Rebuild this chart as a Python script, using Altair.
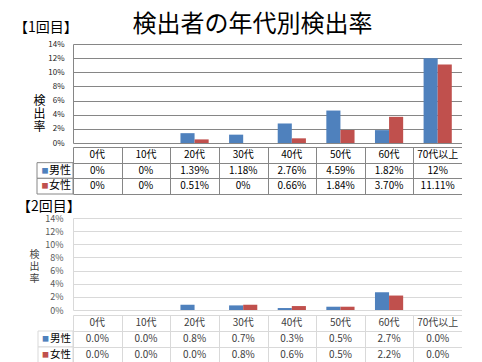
import altair as alt
import pandas as pd

ages = ["0代", "10代", "20代", "30代", "40代", "50代", "60代", "70代以上"]
sexes = ["男性", "女性"]
colors = ["#4F81BD", "#C0504D"]
y_ticks = [0, 2, 4, 6, 8, 10, 12, 14]
rows = ["header", "男性", "女性"]

r1_male = [0, 0, 1.39, 1.18, 2.76, 4.59, 1.82, 12.0]
r1_female = [0, 0, 0.51, 0, 0.66, 1.84, 3.70, 11.11]
r1_male_text = ["0%", "0%", "1.39%", "1.18%", "2.76%", "4.59%", "1.82%", "12%"]
r1_female_text = ["0%", "0%", "0.51%", "0%", "0.66%", "1.84%", "3.70%", "11.11%"]

r2_male = [0.0, 0.0, 0.8, 0.7, 0.3, 0.5, 2.7, 0.0]
r2_female = [0.0, 0.0, 0.0, 0.8, 0.6, 0.5, 2.2, 0.0]
r2_male_text = ["0.0%", "0.0%", "0.8%", "0.7%", "0.3%", "0.5%", "2.7%", "0.0%"]
r2_female_text = ["0.0%", "0.0%", "0.0%", "0.8%", "0.6%", "0.5%", "2.2%", "0.0%"]

FONT = "Noto Sans CJK JP"
W = 389


def panel(label, male, female, mtext, ftext, st):
    bar_df = pd.DataFrame(
        [{"age": a, "sex": "男性", "value": v} for a, v in zip(ages, male)]
        + [{"age": a, "sex": "女性", "value": v} for a, v in zip(ages, female)]
    )
    bars = alt.Chart(bar_df).mark_bar().encode(
        x=alt.X("age:N", sort=ages,
                scale=alt.Scale(domain=ages, paddingInner=0.42, paddingOuter=0.21),
                axis=None),
        xOffset=alt.XOffset("sex:N", sort=sexes, scale=alt.Scale(domain=sexes)),
        y=alt.Y("value:Q",
                scale=alt.Scale(domain=[0, 14], nice=False),
                axis=alt.Axis(values=y_ticks, labelExpr="datum.value + '%'",
                              grid=True, gridColor=st["grid"], gridWidth=1,
                              domain=True, domainColor=st["grid"], ticks=False,
                              labelPadding=st["lpad"], labelFont=FONT,
                              labelFontSize=st["lsize"], labelColor=st["lcolor"],
                              title=["検", "出", "率"], titleAngle=0,
                              titleAlign="center", titleBaseline="top",
                              titleX=st["tx"], titleY=st["ty"], titleFont=FONT,
                              titleFontSize=st["tsize"], titleLineHeight=st["tline"],
                              titleFontWeight="normal", titleColor=st["tcolor"])),
        color=alt.Color("sex:N", scale=alt.Scale(domain=sexes, range=colors), legend=None),
    ).properties(
        width=W, height=st["h"],
        title=alt.TitleParams(label, anchor="start", frame="group", dx=st["ldx"],
                              fontSize=14, font=FONT, fontWeight="normal",
                              baseline="alphabetic", offset=st["loff"], color="#000000"),
    )

    cell_df = pd.DataFrame(
        [{"age": a, "row": "header", "text": a} for a in ages]
        + [{"age": a, "row": "男性", "text": t} for a, t in zip(ages, mtext)]
        + [{"age": a, "row": "女性", "text": t} for a, t in zip(ages, ftext)]
    )
    yaxis = alt.Axis(grid=True, tickBand="extent", gridColor=st["tline_c"], labels=False,
                     ticks=False, domain=False, title=None)
    yenc = alt.Y("row:N", sort=rows,
                 scale=alt.Scale(domain=rows, paddingInner=0, paddingOuter=0), axis=yaxis)
    cells = alt.Chart(cell_df).mark_text(font=FONT, fontSize=st["csize"], color=st["ccolor"]).encode(
        x=alt.X("age:N", sort=ages,
                scale=alt.Scale(domain=ages, paddingInner=0, paddingOuter=0),
                axis=alt.Axis(grid=True, tickBand="extent", gridColor=st["tline_c"],
                              labels=False, ticks=False, domain=False, title=None)),
        y=yenc,
        text="text:N",
    )
    hdr_df = pd.DataFrame({"row": sexes, "sex": sexes, "col": ["h", "h"]})
    hx = alt.X("col:N", scale=alt.Scale(domain=["h"], range=[-st["hw"], 0],
                                         paddingInner=0, paddingOuter=0), axis=None)
    hdr_rect = alt.Chart(hdr_df).mark_rect(fill="white", stroke=st["tline_c"], strokeWidth=1).encode(
        x=hx, y=yenc)
    hdr_sq = alt.Chart(hdr_df).mark_text(text="■", font=FONT, fontSize=st["sqsize"],
                                         dx=st["sqdx"]).encode(
        x=hx, y=yenc,
        color=alt.Color("sex:N", scale=alt.Scale(domain=sexes, range=colors), legend=None))
    hdr_name = alt.Chart(hdr_df).mark_text(font=FONT, fontSize=st["nsize"], dx=st["ndx"],
                                           color="#000000").encode(
        x=hx, y=yenc, text="sex:N")
    table = alt.layer(cells, hdr_rect, hdr_sq, hdr_name).resolve_scale(
        x="independent").properties(width=W, height=st["th"])
    return alt.vconcat(bars, table, spacing=0)


st1 = dict(grid="#868686", lpad=9, lsize=8, lcolor="#222222", tx=-34, ty=51,
           tsize=12, tline=13, tcolor="#000000", h=99, ldx=-59, loff=-6,
           tline_c="#868686", csize=10, ccolor="#000000", hw=36, sqsize=7,
           sqdx=-10, nsize=11, ndx=5, th=47)
st2 = dict(grid="#d9d9d9", lpad=10, lsize=9, lcolor="#595959", tx=-39, ty=31,
           tsize=10, tline=12, tcolor="#404040", h=92, ldx=-56, loff=-11,
           tline_c="#d9d9d9", csize=10, ccolor="#404040", hw=35, sqsize=7,
           sqdx=-10, nsize=10.5, ndx=5, th=48)

p1 = panel("【1回目】", r1_male, r1_female, r1_male_text, r1_female_text, st1)
p2 = panel("【2回目】", r2_male, r2_female, r2_male_text, r2_female_text, st2)

chart = alt.vconcat(p1, p2, spacing=5).properties(
    title=alt.TitleParams("検出者の年代別検出率", anchor="middle", frame="group",
                          fontSize=24, font=FONT, fontWeight="normal",
                          baseline="alphabetic", offset=-35, dx=-15, color="#000000"),
    padding={"left": 6, "top": 5, "right": 0, "bottom": 0},
).configure(font=FONT, background="white").configure_view(stroke=None)

chart.save("out.html", embed_options={"renderer": "svg", "actions": False})
